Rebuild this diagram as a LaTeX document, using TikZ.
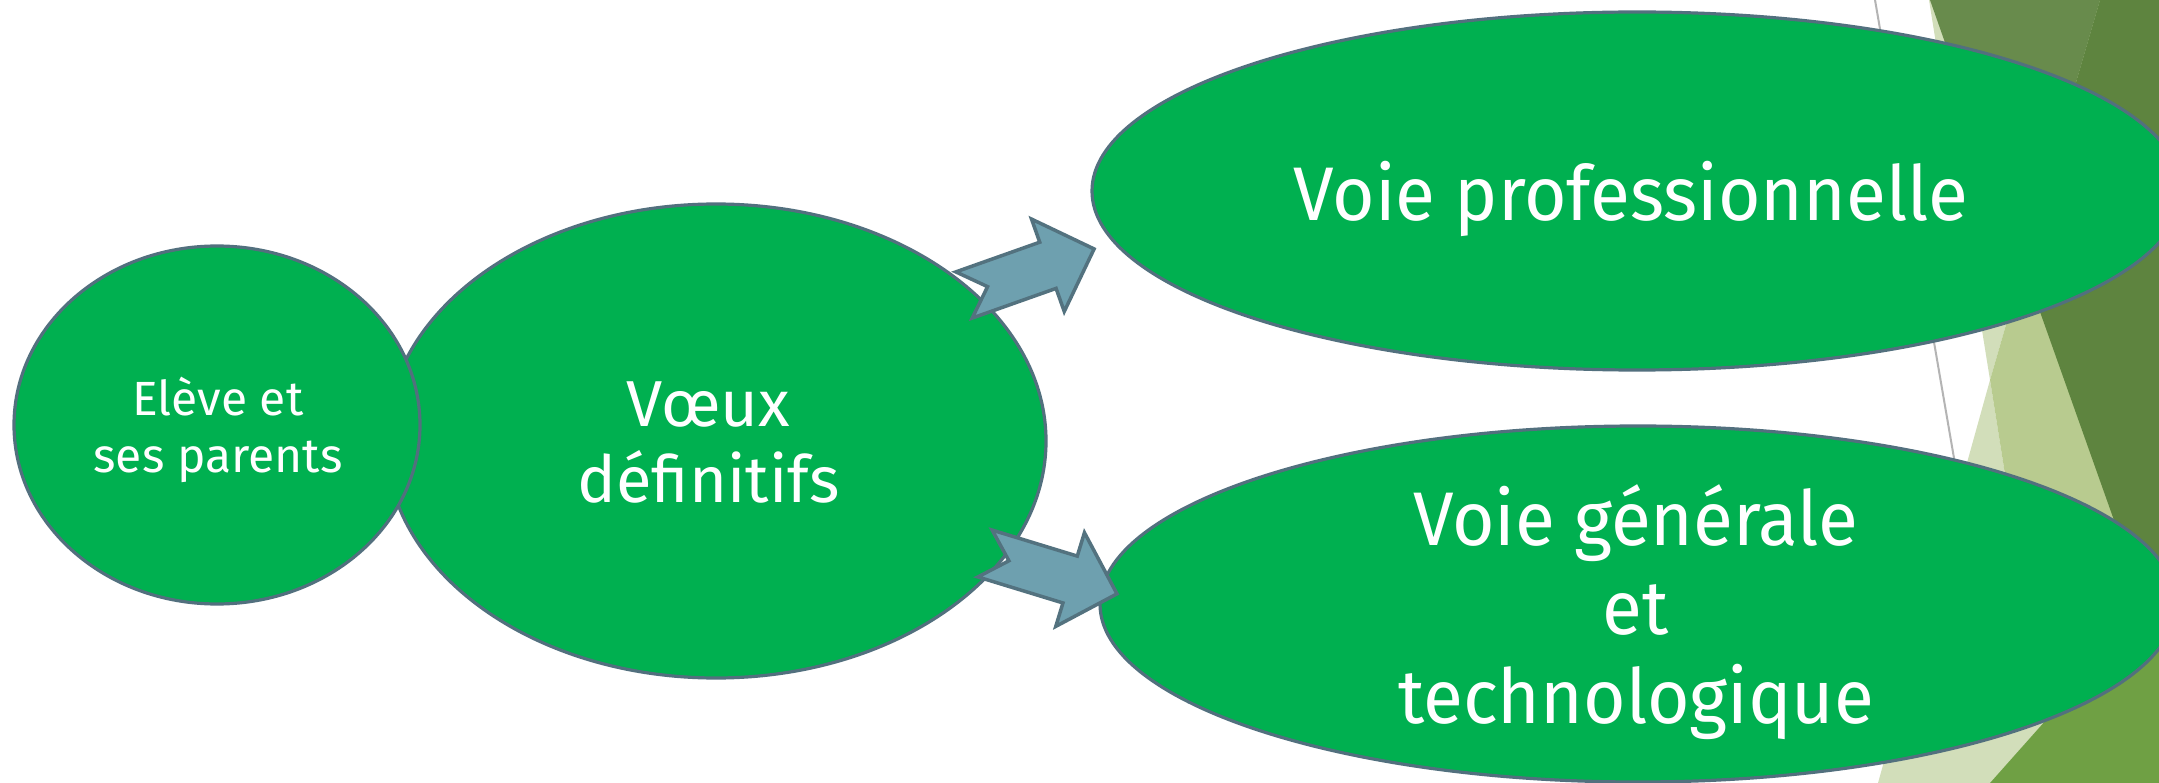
\documentclass[tikz,border=0pt]{standalone}
\usepackage{fontspec}
\setmainfont{Fira Sans}
\newfontfamily\narrowfont{Fira Sans}[FakeStretch=0.96]
\usetikzlibrary{shapes.geometric}
\definecolor{ellfill}{RGB}{0,176,80}
\definecolor{ellline}{HTML}{52707E}
\definecolor{arrfill}{HTML}{6EA0AF}
\definecolor{arrline}{HTML}{53727F}
\definecolor{paleA}{HTML}{D2DEBA}
\definecolor{paleB}{HTML}{B8CB8F}
\definecolor{oliveA}{HTML}{688B4C}
\definecolor{oliveB}{HTML}{5E843F}
\definecolor{midgreen}{HTML}{6FA044}
\definecolor{shadowline}{HTML}{B4B4B4}
\begin{document}
\begin{tikzpicture}[x=1pt,y=-1pt,
  bubble/.style={ellipse, draw=ellline, fill=ellfill, line width=3.2pt, inner sep=0pt},
  txt/.style={text=white, inner sep=0pt, anchor=base},
  blockarrow/.style={draw=arrline, fill=arrfill, line width=3.5pt, line join=miter}]
\useasboundingbox (0,0) rectangle (2159,783);
\clip (0,0) rectangle (2159,783);
\fill[white] (0,0) rectangle (2159,783);
% background facets
\draw[shadowline, line width=2pt] (1875,0) -- (2010,783);
\fill[paleA] (1929,0) -- (2100,0) -- (1990,380) -- cycle;
\fill[paleA] (1990,380) -- (2054,783) -- (1878,783) -- cycle;
\fill[paleB] (2100,0) -- (2159,0) -- (2159,783) -- (2054,783) -- (1990,380) -- cycle;
\fill[oliveA] (1930,0) -- (2100,0) -- (2023,264) -- cycle;
\fill[oliveB] (2100,0) -- (2159,0) -- (2159,647) -- (2023,264) -- cycle;
\fill[midgreen] (1990,783) -- (2159,593) -- (2159,783) -- cycle;
% ellipses
\node[bubble, minimum width=1090pt, minimum height=358pt] (e3) at (1637,191) {};
\node[bubble, minimum width=1076pt, minimum height=356pt] (e4) at (1638,604) {};
\node[bubble, minimum width=660pt, minimum height=474pt] (e2) at (716,441) {};
\node[bubble, minimum width=406pt, minimum height=358pt] (e1) at (217,425) {};
% block arrows
\begin{scope}[shift={(964,295)}, rotate=19.5]
\filldraw[blockarrow] (0,24.5) -- (89,24.5) -- (89,49) -- (138,0) -- (89,-49) -- (89,-24.5) -- (0,-24.5) -- (25,0) -- cycle;
\end{scope}
\begin{scope}[shift={(985,553.5)}, rotate=-17]
\filldraw[blockarrow] (0,24.5) -- (89,24.5) -- (89,49) -- (138,0) -- (89,-49) -- (89,-24.5) -- (0,-24.5) -- (25,0) -- cycle;
\end{scope}
% texts
\node[txt, font=\fontsize{48}{57}\selectfont] (t1) at (218,415) {\begin{tabular}[t]{@{}c@{}}Elève et\\ses parents\end{tabular}};
\node[txt, font=\fontsize{65}{76}\selectfont] (t2) at (708.5,426) {\begin{tabular}[t]{@{}c@{}}Vœux\\définitifs\end{tabular}};
\node[txt, font=\narrowfont\fontsize{76}{89}\selectfont] (t3) at (1631,221) {Voie professionnelle};
\node[txt, font=\narrowfont\fontsize{76}{89}\selectfont] (t4) at (1636,545) {\begin{tabular}[t]{@{}c@{}}Voie générale\\et\\technologique\end{tabular}};
\end{tikzpicture}
\end{document}
